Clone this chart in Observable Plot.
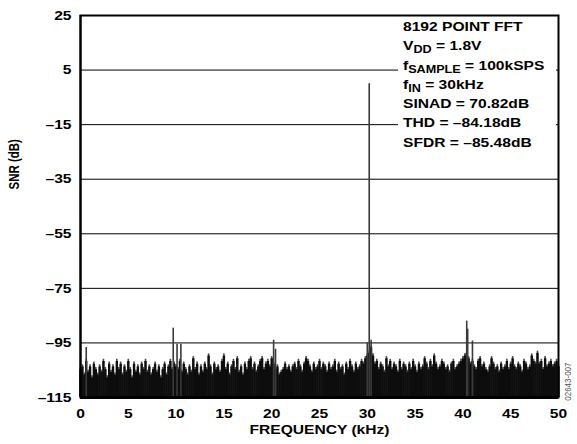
<!DOCTYPE html>
<html>
<head>
<meta charset="utf-8">
<script src="https://cdn.jsdelivr.net/npm/d3@7"></script>
<script src="https://cdn.jsdelivr.net/npm/@observablehq/plot@0.6"></script>
<style>
  html, body { margin: 0; padding: 0; background: #fff; }
  #wrap { position: relative; width: 577px; height: 444px; }
  #note {
    position: absolute; left: 398px; top: 17px; width: 158px; height: 134px;
    background: #fff; box-sizing: border-box;
  }
  #noteInner {
    position: absolute; left: 5px; top: 0;
    transform: scaleX(1.2); transform-origin: 0 0;
    font-family: "Liberation Sans", Arial, sans-serif; font-weight: bold; font-size: 13px; color: #000;
  }
  #noteInner div { height: 19.3px; line-height: 19.3px; white-space: nowrap; }
  #noteInner .sub { font-size: 10.5px; position: relative; top: 3px; }
</style>
</head>
<body>
<div id="wrap"><div id="note"><div id="noteInner"></div></div></div>
<script>
// ---- data ----
const xTicks = [0, 5, 10, 15, 20, 25, 30, 35, 40, 45, 50];
const yTicks = [-115, -95, -75, -55, -35, -15, 5, 25];
const gridDb = [-95, -75, -55, -35, -15, 5];

// noise floor, one value every 0.2 kHz from 0 to 50 kHz (dB)
const freqStepKHz = 0.2;
const noiseDb = [
  -104, -103, -106, -101, -105, -103, -107, -102, -104, -106,
  -103, -105, -101, -104, -107, -102, -105, -103, -106, -101,
  -104, -102, -106, -103, -105, -101, -104, -107, -102, -105,
  -103, -106, -102, -104, -101, -105, -103, -106, -104, -102,
  -105, -103, -107, -104, -102, -106, -103, -101, -104, -102,
  -103, -104, -101, -105, -102, -104, -106, -103, -105, -100,
  -104, -102, -106, -103, -105, -102, -104,  -99, -103, -106,
  -102, -104, -103, -105, -101,  -99, -104, -102, -106, -103,
  -101, -104, -100, -105, -103, -106, -102, -104, -101, -100,
  -104, -102, -105, -103, -101, -100, -104, -102, -101, -103,
  -100, -102, -104, -103, -106, -105, -104, -102, -104, -103,
  -105, -103, -102, -104, -101, -103, -105, -102, -100, -101,
  -103, -105, -102, -104, -103, -101, -104, -102, -103, -105,
  -102, -104, -103, -101, -105, -102, -104, -103, -106, -102,
  -104, -101, -103, -105, -102, -104, -103, -101, -102, -100,
   -99,  -98,  -96,  -99, -102, -101, -104, -102, -103, -105,
  -100, -103, -101, -104, -102, -103, -105, -101, -104, -102,
  -103, -105, -102, -104, -101, -103, -105, -102, -104, -103,
  -100, -102, -104, -101, -103,  -99, -102, -104, -103, -101,
  -102, -104, -103, -105, -102, -101, -104, -103, -102, -101,
  -100,  -99,  -98, -100, -102, -101, -103, -104, -101, -100,
  -103, -102, -104, -105, -103, -100, -102, -104, -103, -105,
  -102, -104, -103, -101, -104, -102, -100, -103, -104, -102,
  -103, -105, -101, -102, -104, -103,  -99, -101, -102,  -98,
  -102, -101, -104, -100, -103, -102, -101, -103, -102, -101,
  -103
];

// fundamental and harmonic spurs
const spikeFreq = [0.6, 9.7, 10.1, 10.5, 20.2, 20.4, 30.0, 30.2, 30.4, 40.4, 40.5, 41.0];
const spikeDb   = [-96.7, -89.6, -95.5, -95.5, -94, -97.3, -95, 0, -94, -87, -90, -94.3];

const noteLines = [
  ["8192 POINT FFT"],
  ["V", "DD", " = 1.8V"],
  ["f", "SAMPLE", " = 100kSPS"],
  ["f", "IN", " = 30kHz"],
  ["SINAD = 70.82dB"],
  ["THD = \u201384.18dB"],
  ["SFDR = \u201385.48dB"]
];

// ---- build ----
const noise = noiseDb.map((db, i) => ({f: Math.round(i * freqStepKHz * 10) / 10, db}));
const spikes = spikeFreq.map((f, i) => ({f, db: spikeDb[i]}));
const fmt = d => String(d).replace("-", "\u2013");
const stretch = 1.2;

const chart = Plot.plot({
  width: 577, height: 444,
  marginLeft: 80, marginRight: 19, marginTop: 15, marginBottom: 47,
  style: {fontFamily: "'Liberation Sans', Arial, sans-serif", fontSize: "13px", fontWeight: "bold", color: "#000", background: "transparent", overflow: "visible"},
  x: {domain: [0, 50], ticks: xTicks, tickSize: 0, tickPadding: 11, label: null},
  y: {domain: [-115, 25], ticks: yTicks, tickSize: 0, tickPadding: 9, label: null, tickFormat: fmt},
  marks: [
    Plot.ruleY(gridDb, {stroke: "#000", strokeWidth: 1}),
    Plot.ruleX(noise, {x: "f", y1: -115, y2: "db", stroke: "#4a4a4a", strokeWidth: 1.6}),
    Plot.ruleX(noise, {x: "f", y1: -115, y2: d => d.db - 0.8, stroke: "#0d0d0d", strokeWidth: 2.4}),
    Plot.ruleX(spikes, {x: "f", y1: -115, y2: "db", stroke: "#3a3a3a", strokeWidth: 1.6}),
    Plot.frame({stroke: "#000", strokeWidth: 2}),
    Plot.ruleY([-115], {stroke: "#000", strokeWidth: 3}),
    Plot.ruleX([0], {stroke: "#000", strokeWidth: 2}),
    Plot.text(["FREQUENCY (kHz)"], {text: d => d, frameAnchor: "bottom", dy: 36, fontSize: 13, fontWeight: "bold"}),
    Plot.text(["SNR (dB)"], {text: d => d, frameAnchor: "left", dx: -66, dy: -17, rotate: -90, fontSize: 11.5, fontWeight: "bold"}),
    Plot.text(["02643-007"], {text: d => d, frameAnchor: "bottom-right", dx: 12, dy: -35, rotate: -90, fontSize: 8, fontWeight: "normal", fill: "#555"})
  ]
});

// the reference's lettering is horizontally stretched: widen every label in place
chart.querySelectorAll("text").forEach(el => {
  let t = el.getAttribute("transform") || "";
  const xa = el.getAttribute("x");
  if (xa !== null && !isNaN(+xa)) { t += ` translate(${+xa},0)`; el.removeAttribute("x"); }
  t += /rotate\(\s*-?90/.test(t) ? ` scale(1,${stretch})` : ` scale(${stretch},1)`;
  el.setAttribute("transform", t.trim());
});

const wrap = document.getElementById("wrap");
wrap.insertBefore(chart, wrap.firstChild);

const note = document.getElementById("noteInner");
for (const parts of noteLines) {
  const line = document.createElement("div");
  parts.forEach((p, i) => {
    const s = document.createElement("span");
    s.textContent = p;
    if (parts.length === 3 && i === 1) s.className = "sub";
    line.appendChild(s);
  });
  note.appendChild(line);
}
</script>
</body>
</html>
